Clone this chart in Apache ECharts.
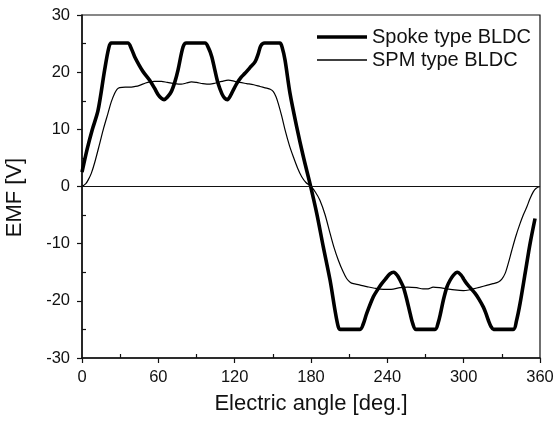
<!DOCTYPE html>
<html><head><meta charset="utf-8">
<script src="https://cdn.jsdelivr.net/npm/echarts@6/dist/echarts.min.js"></script>
<style>html,body{margin:0;padding:0;background:#fff}#c{width:560px;height:421px}</style>
</head><body><div id="c"></div>
<script>
const seriesNames = ['Spoke type BLDC', 'SPM type BLDC'];
const xTicks = [0, 60, 120, 180, 240, 300, 360];
const yTicks = [-30, -20, -10, 0, 10, 20, 30];

const spokeAngle = [0,4,8,12.6,17.8,21,23,36,39,41.4,45,48,53.2,57,60,62.5,64.5,67,70.2,73,75.5,79.4,82,96.7,99.5,102,104.5,107,110,112,114.3,116.5,119,121.6,125,128.1,132,136,138.5,140.5,143.5,155.5,157.5,159.6,163.5,168.8,174,179.2,184.5,189.7,195,198.9,201.5,203,218.6,221,223.8,229,232.5,235.6,238.5,242,245,248,250.5,252.6,255,257.9,260,262.5,277.5,280,282,284,286.8,289.3,292,295,298,300,302.4,305.5,309,312,315.5,317.5,319.4,321.5,323.5,339,341.5,344.3,348.3,352.2,356.1];
const spokeEmf = [2.5,6.5,9.9,13.3,20.4,24.2,25.1,25.1,24,22.7,21.2,20.1,18.6,17.2,16.0,15.4,15.2,15.6,16.6,18.3,20.4,24.4,25.1,25.1,24.2,22.7,20.3,18,16.2,15.5,15.2,15.8,16.9,18,19.1,19.8,20.8,21.8,23.2,24.6,25.1,25.1,24.2,22.1,16.3,10.4,5.2,0.5,-4.7,-10.6,-16.4,-21.7,-24.6,-25,-25,-24.1,-22.2,-19.3,-18.0,-17,-16.2,-15.3,-15,-15.6,-16.6,-17.6,-19.5,-22.2,-24,-25,-25,-23.8,-22.0,-19.9,-17.6,-16.4,-15.5,-15,-15.5,-16.2,-17,-17.8,-18.7,-19.7,-21.1,-22.2,-23.4,-24.5,-25,-25,-23.5,-20.5,-15.2,-10,-5.6];

const spmAngle = [0,3,5,7.3,10,13.9,17,20.4,23,25.7,27.5,29.6,34,38.8,42,45.3,50,53.2,57,62.4,67,72.8,78,82,86,90,95,100.6,105,110,115,120,124,129.5,135,140,145.2,148,150.4,152.5,154.3,157,159.6,163,166.1,169.5,172.7,176,180,183.5,187,191,195,198,201.5,205,208,211,213.3,218,223.8,230,236.9,243,250,256,263,268,272,276,281,286.7,293,299.8,304,307.6,313,318,323,327.3,330,332.6,335,337.8,341,344.3,347,349.6,352,354.8,357,360];
const spmEmf = [0,0.5,1.2,2.3,4.2,7.5,10.2,12.8,14.8,16.3,17.0,17.3,17.4,17.4,17.5,17.7,18.1,18.3,18.4,18.4,18.2,18.0,17.9,18.1,18.3,18.2,18.0,17.9,18.1,18.4,18.6,18.4,18.2,18.0,17.8,17.5,17.2,17.0,16.6,15.7,14.5,12.3,9.9,7.2,5.2,3.2,1.7,0.7,0,-1,-2.4,-4.9,-8.2,-10.6,-12.9,-14.8,-16.1,-16.8,-17,-17.2,-17.5,-17.8,-18,-18.0,-17.7,-17.6,-17.7,-17.9,-17.9,-17.6,-17.7,-17.9,-18.1,-18.2,-18.1,-17.9,-17.6,-17.3,-17.0,-16.7,-16.2,-15.2,-13.5,-11.2,-8.7,-6.5,-4.9,-3.6,-2.2,-0.9,-0.3,0];

const zip = (a, b) => a.map((v, i) => [v, b[i]]);
const FONT = 'Liberation Sans, Arial, sans-serif';
const INK = '#111';

const chart = echarts.init(document.getElementById('c'), null, {renderer: 'canvas'});
const xMin = xTicks[0], xMax = xTicks[xTicks.length - 1];
const yMin = yTicks[0], yMax = yTicks[yTicks.length - 1];
const baseX = {
  type: 'value', min: xMin, max: xMax, interval: xTicks[1] - xTicks[0],
  splitLine: {show: false}
};
const baseY = {
  type: 'value', min: yMin, max: yMax, interval: yTicks[1] - yTicks[0],
  splitLine: {show: false}
};
const legendBase = {
  orient: 'vertical', left: 312, itemWidth: 50, icon: 'rect',
  textStyle: {fontFamily: FONT, fontSize: 20, color: INK, padding: [0, 0, 0, 0]}
};
chart.setOption({
  animation: false,
  backgroundColor: '#fff',
  grid: {left: 82, right: 20, top: 15, bottom: 63, containLabel: false, outerBoundsMode: 'none',
         show: true, borderColor: INK, borderWidth: 1.2, backgroundColor: 'transparent'},
  legend: [
    Object.assign({}, legendBase, {data: [seriesNames[0]], top: 22, itemHeight: 3.5}),
    Object.assign({}, legendBase, {data: [seriesNames[1]], top: 45, itemHeight: 1.3})
  ],
  xAxis: [
    Object.assign({}, baseX, {
      position: 'bottom',
      name: 'Electric angle [deg.]', nameLocation: 'middle', nameGap: 35,
      nameTextStyle: {fontFamily: FONT, fontSize: 22, color: INK},
      axisLine: {show: true, onZero: false, lineStyle: {color: INK, width: 1.5}},
      axisTick: {show: true, inside: false, length: 5, lineStyle: {color: INK, width: 1.2}},
      axisLabel: {fontFamily: FONT, fontSize: 16.5, color: INK, margin: 11}
    }),
    Object.assign({}, baseX, {
      position: 'bottom',
      axisLine: {show: false, onZero: false},
      axisTick: {show: false, inside: true},
      minorTick: {show: true, splitNumber: 2, length: 4, lineStyle: {color: INK, width: 1.2}},
      axisLabel: {show: false}
    })
  ],
  yAxis: [
    Object.assign({}, baseY, {
      position: 'left',
      name: 'EMF [V]', nameLocation: 'middle', nameGap: 56, nameRotate: 90,
      nameTextStyle: {fontFamily: FONT, fontSize: 22, color: INK, padding: [0, 22, 0, 0]},
      axisLine: {show: true, onZero: false, lineStyle: {color: INK, width: 1.5}},
      axisTick: {show: true, inside: false, length: 5, lineStyle: {color: INK, width: 1.2}},
      axisLabel: {fontFamily: FONT, fontSize: 16.5, color: INK, margin: 12}
    }),
    Object.assign({}, baseY, {
      position: 'left',
      axisLine: {show: false, onZero: false},
      axisTick: {show: false, inside: true},
      minorTick: {show: true, splitNumber: 2, length: 4, lineStyle: {color: INK, width: 1.2}},
      axisLabel: {show: false}
    })
  ],
  series: [
    {
      name: seriesNames[0], type: 'line', data: zip(spokeAngle, spokeEmf),
      xAxisIndex: 0, yAxisIndex: 0,
      showSymbol: false, symbol: 'none', smooth: 0.3,
      lineStyle: {color: '#000', width: 3.6}, itemStyle: {color: '#000'},
      z: 3,
      markLine: {
        silent: true, symbol: 'none', label: {show: false},
        lineStyle: {color: INK, width: 1.2, type: 'solid'},
        data: [{yAxis: 0}]
      }
    },
    {
      name: seriesNames[1], type: 'line', data: zip(spmAngle, spmEmf),
      xAxisIndex: 0, yAxisIndex: 0,
      showSymbol: false, symbol: 'none', smooth: 0.3,
      lineStyle: {color: '#000', width: 1.2}, itemStyle: {color: '#000'},
      z: 2
    }
  ]
});
</script></body></html>
